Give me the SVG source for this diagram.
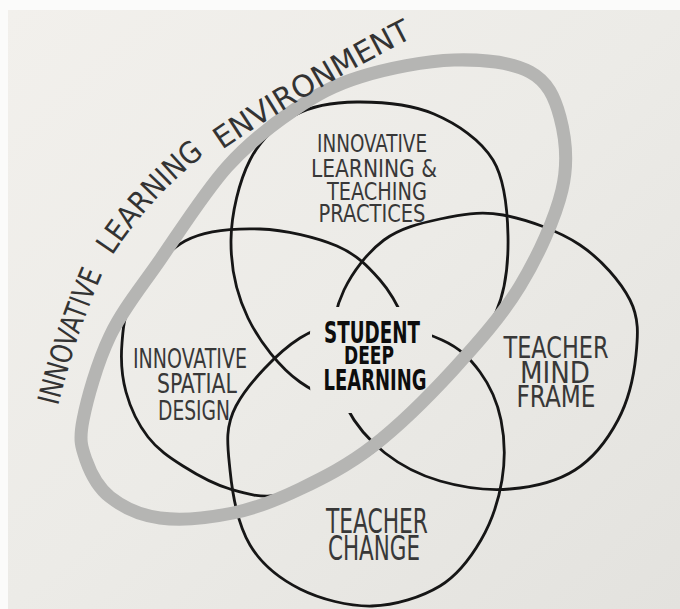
<svg xmlns="http://www.w3.org/2000/svg" width="680" height="609" viewBox="0 0 680 609">
  <defs>
    <linearGradient id="paper" x1="0" y1="0" x2="1" y2="1">
      <stop offset="0" stop-color="#f2f0ec"/>
      <stop offset="0.5" stop-color="#ecebe7"/>
      <stop offset="1" stop-color="#e3e2de"/>
    </linearGradient>
    <mask id="centerMask" maskUnits="userSpaceOnUse" x="0" y="0" width="680" height="609">
      <rect x="0" y="0" width="680" height="609" fill="#fff"/>
      <rect x="310" y="307" width="122" height="106" rx="26" fill="#000"/>
    </mask>
    <path id="pInn" d="M58,406 Q76,334 104,270"/>
    <path id="pLea" d="M112,256 Q152,195 208,152"/>
    <path id="pEnv" d="M222,150 Q310,90 416,36"/>
  </defs>
  <style>
    .ring { fill: none; stroke: #161616; stroke-width: 2.8; stroke-linejoin: round; }
    .lbl { font-family: "Liberation Sans Narrow", "DejaVu Sans Condensed", "Liberation Sans", Arial, sans-serif; fill: #383838; text-anchor: middle; }
    .ctr { font-family: "Liberation Sans Narrow", "DejaVu Sans Condensed", "Liberation Sans", Arial, sans-serif; fill: #0d0d0d; font-weight: bold; text-anchor: middle; }
    .arc { font-family: "Liberation Sans Narrow", "DejaVu Sans Condensed", "Liberation Sans", Arial, sans-serif; fill: #333; font-size: 30px; }
    .loop { fill: none; stroke: #b5b5b3; stroke-width: 13; stroke-linejoin: round; }
  </style>

  <rect x="0" y="0" width="680" height="609" fill="#fbfbfa"/>
  <rect x="8" y="10" width="672" height="599" fill="url(#paper)"/>

  <g id="connectors"></g>

  <g id="node-learning-teaching-practices">
    <path class="ring" mask="url(#centerMask)" d="M357,102 C380.2,101.8 411.3,104.3 434,114 C456.7,123.7 480.7,139.7 493,160 C505.3,180.3 507.5,210.7 508,236 C508.5,261.3 506.5,288.3 496,312 C485.5,335.7 466.3,362.8 445,378 C423.7,393.2 392.2,402.3 368,403 C343.8,403.7 320,396.2 300,382 C280,367.8 259.5,341.7 248,318 C236.5,294.3 230.7,266.3 231,240 C231.3,213.7 239.3,180.8 250,160 C260.7,139.2 277.2,124.7 295,115 C312.8,105.3 333.8,102.2 357,102 Z"/>
    <text class="lbl" font-size="24" x="372" y="152" textLength="110" lengthAdjust="spacingAndGlyphs">INNOVATIVE</text>
    <text class="lbl" font-size="24" x="374" y="177" textLength="126" lengthAdjust="spacingAndGlyphs">LEARNING &amp;</text>
    <text class="lbl" font-size="24" x="377" y="200" textLength="100" lengthAdjust="spacingAndGlyphs">TEACHING</text>
    <text class="lbl" font-size="24" x="372" y="222" textLength="107" lengthAdjust="spacingAndGlyphs">PRACTICES</text>
  </g>

  <g id="node-spatial-design">
    <path class="ring" mask="url(#centerMask)" d="M260,229 C285.3,229.8 317,237.5 337,246 C357,254.5 368.7,267.3 380,280 C391.3,292.7 398.7,307.3 405,322 C411.3,336.7 418.5,351 418,368 C417.5,385 414.2,407 402,424 C389.8,441 365.3,458.2 345,470 C324.7,481.8 299.2,491.8 280,495 C260.8,498.2 246.2,493.8 230,489 C213.8,484.2 196.7,474.7 183,466 C169.3,457.3 157.5,449.3 148,437 C138.5,424.7 130.3,407.7 126,392 C121.7,376.3 120.7,358.7 122,343 C123.3,327.3 123.5,315 134,298 C144.5,281 164,252.5 185,241 C206,229.5 234.7,228.2 260,229 Z"/>
    <text class="lbl" font-size="26" x="190" y="368" textLength="114" lengthAdjust="spacingAndGlyphs">INNOVATIVE</text>
    <text class="lbl" font-size="26" x="197" y="393" textLength="80" lengthAdjust="spacingAndGlyphs">SPATIAL</text>
    <text class="lbl" font-size="26" x="194" y="420" textLength="72" lengthAdjust="spacingAndGlyphs">DESIGN</text>
  </g>

  <g id="node-teacher-mind-frame">
    <path class="ring" mask="url(#centerMask)" d="M503,215 C526.3,219.3 558.8,230.8 580,245 C601.2,259.2 620.7,281.7 630,300 C639.3,318.3 638,335 636,355 C634,375 628.2,400.8 618,420 C607.8,439.2 593,458.5 575,470 C557,481.5 532.5,487.2 510,489 C487.5,490.8 460.8,487 440,481 C419.2,475 400.5,465.2 385,453 C369.5,440.8 355.8,425.2 347,408 C338.2,390.8 332.5,369.7 332,350 C331.5,330.3 335.3,308.3 344,290 C352.7,271.7 368,251.8 384,240 C400,228.2 420.2,223.2 440,219 C459.8,214.8 479.7,210.7 503,215 Z"/>
    <text class="lbl" font-size="31" x="556" y="358" textLength="105" lengthAdjust="spacingAndGlyphs">TEACHER</text>
    <text class="lbl" font-size="30" x="555" y="383" textLength="70" lengthAdjust="spacingAndGlyphs">MIND</text>
    <text class="lbl" font-size="31" x="556" y="407" textLength="79" lengthAdjust="spacingAndGlyphs">FRAME</text>
  </g>

  <g id="node-teacher-change">
    <path class="ring" mask="url(#centerMask)" d="M370,322 C393.7,322.3 423.7,331.7 442,340 C460.3,348.3 470.2,358.7 480,372 C489.8,385.3 497.3,402 501,420 C504.7,438 505.3,460 502,480 C498.7,500 491.3,522.3 481,540 C470.7,557.7 458.2,575 440,586 C421.8,597 395.3,605.5 372,606 C348.7,606.5 320.3,599.2 300,589 C279.7,578.8 261.7,564.8 250,545 C238.3,525.2 232.3,493.2 230,470 C227.7,446.8 224.3,428 236,406 C247.7,384 277.7,352 300,338 C322.3,324 346.3,321.7 370,322 Z"/>
    <text class="lbl" font-size="33" x="377" y="533" textLength="102" lengthAdjust="spacingAndGlyphs">TEACHER</text>
    <text class="lbl" font-size="33" x="374" y="560" textLength="92" lengthAdjust="spacingAndGlyphs">CHANGE</text>
  </g>

  <g id="node-learning-environment">
    <path class="loop" d="M83,420 C87,399.3 97.2,362.7 110,336 C122.8,309.3 140.5,288.2 160,260 C179.5,231.8 204.7,192 227,167 C249.3,142 271.8,125 294,110 C316.2,95 333.3,85.3 360,77 C386.7,68.7 425.7,60.8 454,60 C482.3,59.2 512.3,62.5 530,72 C547.7,81.5 554.7,97.3 560,117 C565.3,136.7 568.7,161.8 562,190 C555.3,218.2 538.2,256 520,286 C501.8,316 477.5,343.3 453,370 C428.5,396.7 398.5,426.2 373,446 C347.5,465.8 323.3,477.8 300,489 C276.7,500.2 256.3,508.2 233,513 C209.7,517.8 180.5,520.7 160,518 C139.5,515.3 122.3,506.7 110,497 C97.7,487.3 90.5,472.8 86,460 C81.5,447.2 79,440.7 83,420 Z"/>
    <text class="arc"><textPath href="#pInn" textLength="140" lengthAdjust="spacingAndGlyphs">INNOVATIVE</textPath></text>
    <text class="arc"><textPath href="#pLea" textLength="138" lengthAdjust="spacingAndGlyphs">LEARNING</textPath></text>
    <text class="arc"><textPath href="#pEnv" textLength="222" lengthAdjust="spacingAndGlyphs">ENVIRONMENT</textPath></text>
  </g>

  <g id="node-student-deep-learning">
    <text class="ctr" font-size="30" x="372" y="343" textLength="96" lengthAdjust="spacingAndGlyphs">STUDENT</text>
    <text class="ctr" font-size="25" x="369" y="364" textLength="50" lengthAdjust="spacingAndGlyphs">DEEP</text>
    <text class="ctr" font-size="29" x="375" y="390" textLength="103" lengthAdjust="spacingAndGlyphs">LEARNING</text>
  </g>
</svg>
